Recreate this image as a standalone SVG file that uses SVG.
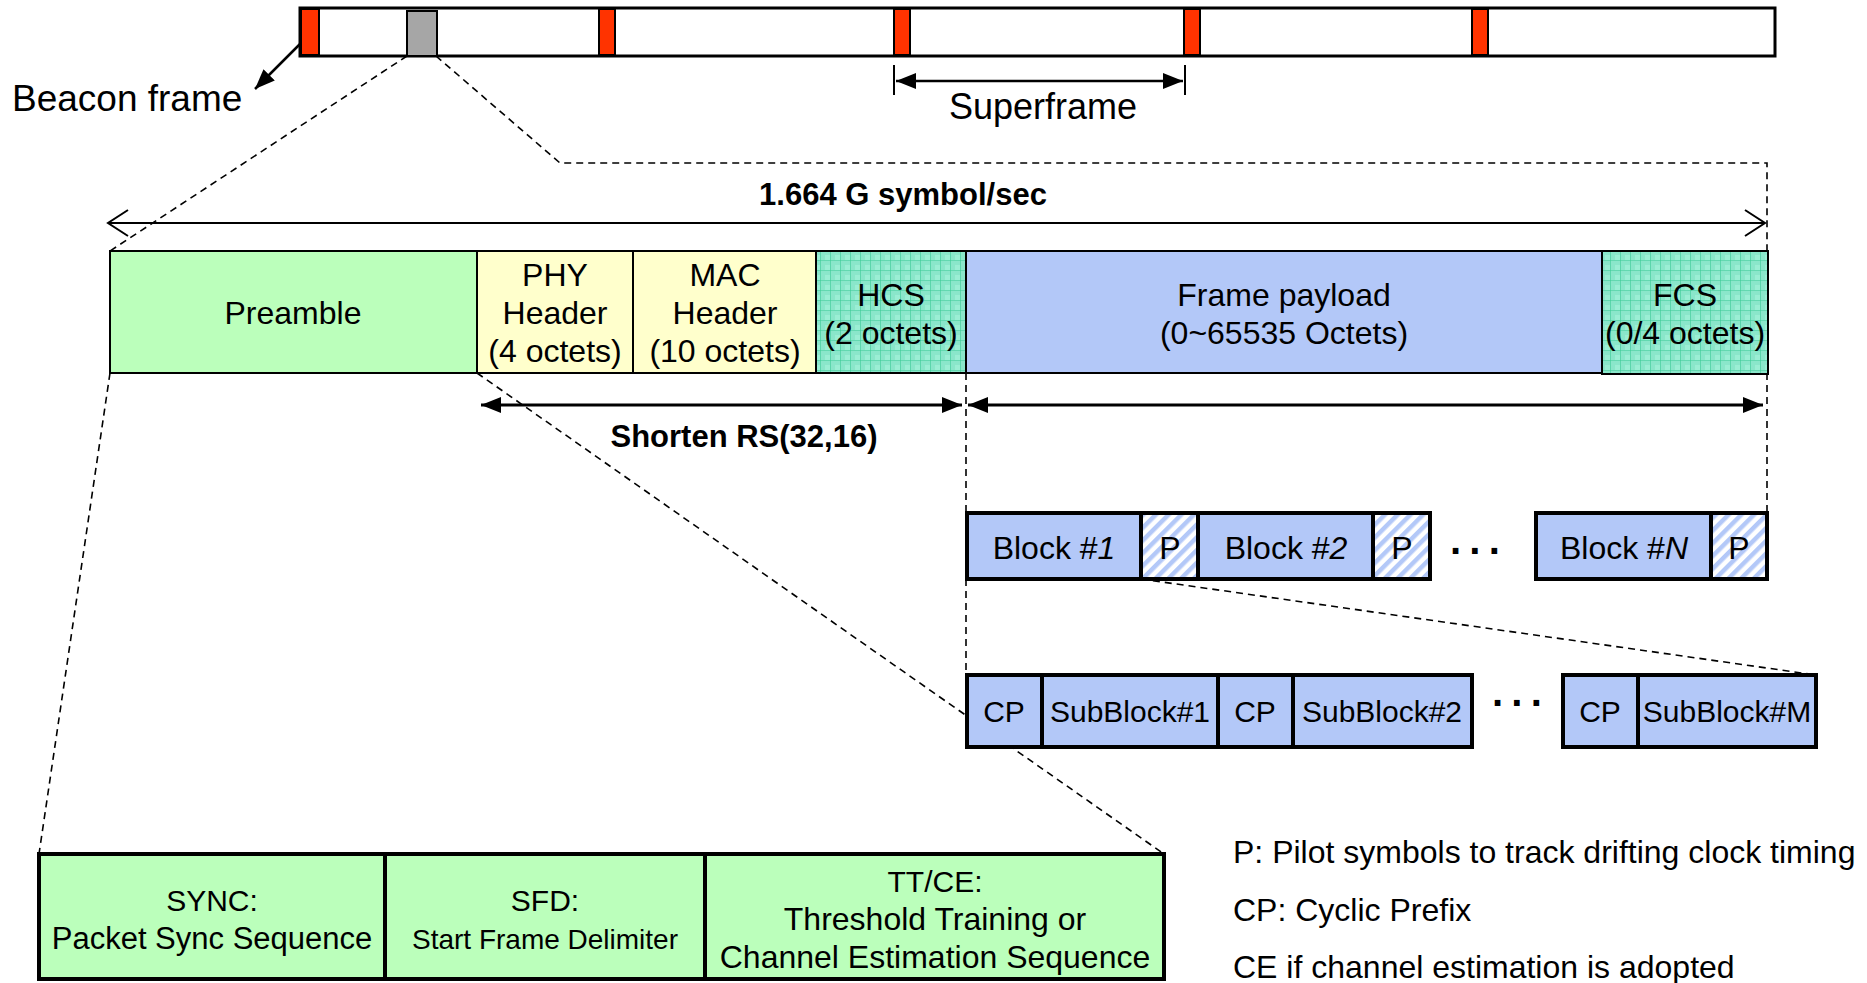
<svg xmlns="http://www.w3.org/2000/svg" width="1867" height="983" viewBox="0 0 1867 983">
<defs>
<style>
text{font-family:"Liberation Sans",Arial,sans-serif;fill:#000}
.t32{font-size:32px;text-anchor:middle}
.t30{font-size:30px;text-anchor:middle}
.b{font-weight:bold}
.dots{font-size:40px;font-weight:bold;text-anchor:middle;letter-spacing:6px}
.dash{fill:none;stroke:#000;stroke-width:1.6;stroke-dasharray:7,5}
.thin{stroke:#000;stroke-width:2}
.thick{stroke:#000;stroke-width:4}
.red{fill:#FF3300;stroke:#000;stroke-width:2}
.blue{fill:#B3C8F8}
</style>
<pattern id="grid" patternUnits="userSpaceOnUse" width="10" height="10">
<rect width="10" height="10" fill="#8AE6CA"/>
<rect x="5" y="5" width="5" height="5" fill="#9BEED4"/>
<path d="M0 0H10M0 0V10" stroke="#3CCB96" stroke-width="1.2"/>
</pattern>
<pattern id="hatch" patternUnits="userSpaceOnUse" width="9" height="9" patternTransform="rotate(45)">
<rect width="9" height="9" fill="#fff"/>
<rect width="4.5" height="9" fill="#B3C8F8"/>
</pattern>
<marker id="fa" markerUnits="userSpaceOnUse" viewBox="0 0 20 16" refX="20" refY="8" markerWidth="20" markerHeight="16" orient="auto-start-reverse">
<path d="M0 0L20 8L0 16z" fill="#000"/>
</marker>
<marker id="oa" markerUnits="userSpaceOnUse" viewBox="0 0 24 30" refX="22" refY="15" markerWidth="24" markerHeight="30" orient="auto-start-reverse">
<path d="M2 2L22 15L2 28" fill="none" stroke="#000" stroke-width="2"/>
</marker>
</defs>
<rect width="1867" height="983" fill="#fff"/>

<g id="connectors">
<path class="dash" d="M407 56L110 251"/>
<path class="dash" d="M436 56L560 163H1767V251"/>
<path class="dash" d="M1767 373V513"/>
<path class="dash" d="M966 373V513"/>
<path class="dash" d="M966 579V675"/>
<path class="dash" d="M110 373L39 854"/>
<path class="dash" d="M477 373L1164 854"/>
<path class="dash" d="M1141 579L1816 675"/>
<line x1="310" y1="34" x2="255" y2="89" stroke="#000" stroke-width="2.5" marker-end="url(#fa)"/>
<line x1="894" y1="65" x2="894" y2="95" stroke="#000" stroke-width="2"/>
<line x1="1185" y1="65" x2="1185" y2="95" stroke="#000" stroke-width="2"/>
<line x1="896" y1="81" x2="1183" y2="81" stroke="#000" stroke-width="2.5" marker-start="url(#fa)" marker-end="url(#fa)"/>
<line x1="108" y1="223" x2="1765" y2="223" stroke="#000" stroke-width="2" marker-start="url(#oa)" marker-end="url(#oa)"/>
<line x1="481" y1="405" x2="962" y2="405" stroke="#000" stroke-width="3" marker-start="url(#fa)" marker-end="url(#fa)"/>
<line x1="968" y1="405" x2="1763" y2="405" stroke="#000" stroke-width="3" marker-start="url(#fa)" marker-end="url(#fa)"/>
</g>

<g id="superframe-bar">
<rect x="300" y="8" width="1475" height="48" fill="#fff" stroke="#000" stroke-width="3"/>
<rect class="red" x="301" y="9" width="18" height="46"/>
<rect class="red" x="599" y="9" width="16" height="46"/>
<rect class="red" x="894" y="9" width="16" height="46"/>
<rect class="red" x="1184" y="9" width="16" height="46"/>
<rect class="red" x="1472" y="9" width="16" height="46"/>
<rect x="407" y="11" width="30" height="45" fill="#A6A6A6" stroke="#000" stroke-width="2"/>
</g>
<g id="beacon-label"><text x="12" y="111" style="font-size:37px">Beacon frame</text></g>
<g id="superframe-label"><text x="1043" y="119" style="font-size:36px;text-anchor:middle">Superframe</text></g>
<g id="rate-label"><text class="t32 b" x="903" y="205" style="font-size:31px">1.664 G symbol/sec</text></g>
<g id="rs-label"><text class="t32 b" x="744" y="447" style="font-size:31px">Shorten RS(32,16)</text></g>

<g id="preamble"><rect class="thin" x="110" y="251" width="367" height="122" fill="#BBFFBB"/><text class="t32" x="293" y="324">Preamble</text></g>
<g id="phy-header"><rect class="thin" x="477" y="251" width="156" height="122" fill="#FFFFCC"/><text class="t32" x="555" y="286">PHY</text><text class="t32" x="555" y="324">Header</text><text class="t32" x="555" y="362">(4 octets)</text></g>
<g id="mac-header"><rect class="thin" x="633" y="251" width="183" height="122" fill="#FFFFCC"/><text class="t32" x="725" y="286">MAC</text><text class="t32" x="725" y="324">Header</text><text class="t32" x="725" y="362">(10 octets)</text></g>
<g id="hcs"><rect class="thin" x="816" y="251" width="150" height="122" fill="url(#grid)"/><text class="t32" x="891" y="306">HCS</text><text class="t32" x="891" y="344">(2 octets)</text></g>
<g id="payload"><rect class="thin" x="966" y="251" width="636" height="122" fill="#B3C8F8"/><text class="t32" x="1284" y="306">Frame payload</text><text class="t32" x="1284" y="344">(0~65535 Octets)</text></g>
<g id="fcs"><rect class="thin" x="1602" y="251" width="166" height="123" fill="url(#grid)"/><text class="t32" x="1685" y="306">FCS</text><text class="t32" x="1685" y="344">(0/4 octets)</text></g>

<g id="block1"><rect class="thick blue" x="967" y="513" width="174" height="66"/><text class="t32" x="1054" y="559">Block #<tspan font-style="italic">1</tspan></text></g>
<g id="p1"><rect class="thick" x="1141" y="513" width="57" height="66" fill="url(#hatch)"/><text class="t32" x="1170" y="559">P</text></g>
<g id="block2"><rect class="thick blue" x="1198" y="513" width="175" height="66"/><text class="t32" x="1286" y="559">Block #<tspan font-style="italic">2</tspan></text></g>
<g id="p2"><rect class="thick" x="1373" y="513" width="57" height="66" fill="url(#hatch)"/><text class="t32" x="1402" y="559">P</text></g>
<g id="dots1"><text class="dots" x="1479" y="565">···</text></g>
<g id="blockN"><rect class="thick blue" x="1536" y="513" width="175" height="66"/><text class="t32" x="1624" y="559">Block #<tspan font-style="italic">N</tspan></text></g>
<g id="pN"><rect class="thick" x="1711" y="513" width="56" height="66" fill="url(#hatch)"/><text class="t32" x="1739" y="559">P</text></g>

<g id="cp1"><rect class="thick blue" x="967" y="675" width="75" height="72"/><text class="t30" x="1004" y="722">CP</text></g>
<g id="sub1"><rect class="thick blue" x="1042" y="675" width="176" height="72"/><text class="t30" x="1130" y="722">SubBlock#1</text></g>
<g id="cp2"><rect class="thick blue" x="1218" y="675" width="75" height="72"/><text class="t30" x="1255" y="722">CP</text></g>
<g id="sub2"><rect class="thick blue" x="1293" y="675" width="179" height="72"/><text class="t30" x="1382" y="722">SubBlock#2</text></g>
<g id="dots2"><text class="dots" x="1521" y="717">···</text></g>
<g id="cpM"><rect class="thick blue" x="1563" y="675" width="75" height="72"/><text class="t30" x="1600" y="722">CP</text></g>
<g id="subM"><rect class="thick blue" x="1638" y="675" width="178" height="72"/><text class="t30" x="1727" y="722">SubBlock#M</text></g>

<g id="sync"><rect class="thick" x="39" y="854" width="346" height="125" fill="#BBFFBB"/><text class="t30" x="212" y="911">SYNC:</text><text class="t30" x="212" y="949" style="font-size:31px">Packet Sync Sequence</text></g>
<g id="sfd"><rect class="thick" x="385" y="854" width="320" height="125" fill="#BBFFBB"/><text class="t30" x="545" y="911">SFD:</text><text class="t30" x="545" y="949" style="font-size:28px">Start Frame Delimiter</text></g>
<g id="ttce"><rect class="thick" x="705" y="854" width="459" height="125" fill="#BBFFBB"/><text class="t30" x="935" y="892">TT/CE:</text><text class="t32" x="935" y="930">Threshold Training or</text><text class="t32" x="935" y="968">Channel Estimation Sequence</text></g>

<g id="legend">
<text x="1233" y="863" style="font-size:32px">P: Pilot symbols to track drifting clock timing</text>
<text x="1233" y="921" style="font-size:32px">CP: Cyclic Prefix</text>
<text x="1233" y="978" style="font-size:32px">CE if channel estimation is adopted</text>
</g>
</svg>
